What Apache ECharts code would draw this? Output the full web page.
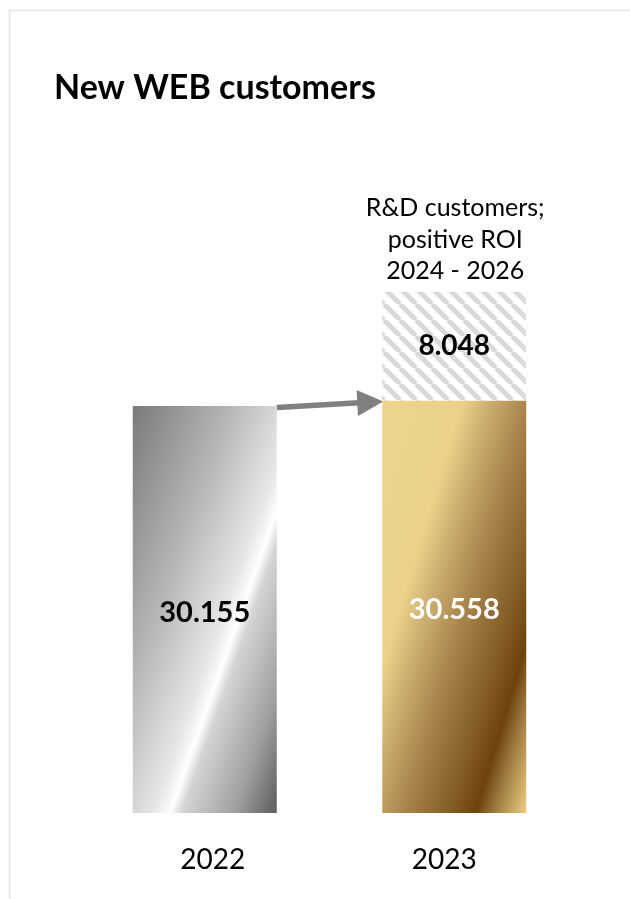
<!DOCTYPE html>
<html>
<head>
<meta charset="utf-8">
<script src="https://cdn.jsdelivr.net/npm/echarts@6/dist/echarts.min.js"></script>
<style>
  html, body { margin: 0; padding: 0; background: #ffffff; }
  #chart { width: 630px; height: 899px; }
</style>
</head>
<body>
<div id="chart"></div>
<script>
// Data
const years = ['2022', '2023'];
const webCustomers = [30.155, 30.558];
const rdCustomers = ['-', 8.048];
const rdNote = 'R&D customers;\npositive ROI\n2024 - 2026';
const chartTitle = 'New WEB customers';

const FONT = 'Lato';

// Brushed silver for the first bar
const silver = {
  type: 'linear', x: 0, y: 0, x2: 1.777, y2: 0.222,
  colorStops: [
    { offset: 0.00, color: '#7a7a7a' },
    { offset: 0.35, color: '#b8b8b8' },
    { offset: 0.57, color: '#e6e6e6' },
    { offset: 0.61, color: '#f6f6f6' },
    { offset: 0.63, color: '#ffffff' },
    { offset: 0.67, color: '#d4d4d4' },
    { offset: 0.85, color: '#a0a0a0' },
    { offset: 1.00, color: '#5c5c5c' }
  ]
};

// Polished gold for the second bar
const gold = {
  type: 'linear', x: 0, y: 0, x2: 1.70, y2: 0.179,
  colorStops: [
    { offset: 0.00, color: '#edd48b' },
    { offset: 0.30, color: '#ecd289' },
    { offset: 0.40, color: '#cdb070' },
    { offset: 0.55, color: '#a8834a' },
    { offset: 0.72, color: '#845c25' },
    { offset: 0.815, color: '#6b430b' },
    { offset: 0.88, color: '#9a763c' },
    { offset: 1.00, color: '#e8cb80' }
  ]
};

// Diagonal hatch tile for the R&D segment
function hatchTile() {
  const c = document.createElement('canvas');
  const s = 16;
  c.width = s; c.height = s;
  const g = c.getContext('2d');
  g.fillStyle = '#ffffff';
  g.fillRect(0, 0, s, s);
  g.strokeStyle = '#d9d9d9';
  g.lineWidth = 5;
  for (let k = -1; k <= 1; k++) {
    g.beginPath();
    g.moveTo(k * s, 0);
    g.lineTo(k * s + s, s);
    g.stroke();
  }
  return c;
}

const BAR_W = 144;
const chart = echarts.init(document.getElementById('chart'), null, { renderer: 'canvas' });

chart.setOption({
  animation: false,
  backgroundColor: '#ffffff',
  title: {
    text: chartTitle,
    left: 49, top: 66,
    textStyle: { fontFamily: FONT, fontWeight: 'bold', fontSize: 34, color: '#000000' }
  },
  grid: { left: 80, width: 499, top: 138, bottom: 86, containLabel: false },
  xAxis: {
    type: 'category',
    data: years,
    axisLine: { show: false },
    axisTick: { show: false },
    axisLabel: {
      margin: 33, fontFamily: FONT, fontSize: 28, color: '#000000',
      formatter: v => (v === years[0] ? '{a|' + v + '}' : '{b|' + v + '}'),
      rich: {
        a: { fontFamily: FONT, fontSize: 28, color: '#000000', padding: [0, 0, 0, 16] },
        b: { fontFamily: FONT, fontSize: 28, color: '#000000', padding: [0, 20, 0, 0] }
      }
    }
  },
  yAxis: {
    type: 'value', min: 0, max: 50, show: false, splitLine: { show: false }
  },
  series: [
    {
      name: 'WEB customers',
      type: 'bar',
      stack: 'total',
      barWidth: BAR_W,
      data: webCustomers.map((v, i) => ({
        value: v,
        itemStyle: { color: i === 0 ? silver : gold },
        label: { color: i === 0 ? '#000000' : '#ffffff' }
      })),
      label: {
        show: true, position: 'inside', offset: [0, 3],
        fontFamily: FONT, fontWeight: 'bold', fontSize: 29,
        formatter: p => Number(p.value).toFixed(3)
      }
    },
    {
      name: 'R&D customers',
      type: 'bar',
      stack: 'total',
      barWidth: BAR_W,
      data: rdCustomers,
      itemStyle: { color: { image: hatchTile(), repeat: 'repeat' } },
      label: {
        show: true, position: 'inside',
        fontFamily: FONT, fontWeight: 'bold', fontSize: 28, color: '#000000',
        formatter: p => Number(p.value).toFixed(3)
      }
    }
  ]
});

// Annotations placed from the axis scales
function placeAnnotations() {
  const a = chart.convertToPixel({ seriesIndex: 0 }, [years[0], webCustomers[0]]);
  const b = chart.convertToPixel({ seriesIndex: 0 }, [years[1], webCustomers[1]]);
  const top = chart.convertToPixel({ seriesIndex: 1 }, [years[1], webCustomers[1] + rdCustomers[1]]);
  const half = BAR_W / 2;
  const x1 = a[0] + half, y1 = a[1] + 1.5;
  const x2 = b[0] - half + 1, y2 = b[1] + 1;
  const dx = x2 - x1, dy = y2 - y1;
  const len = Math.sqrt(dx * dx + dy * dy);
  const ux = dx / len, uy = dy / len;
  const headL = 26, headW = 13;
  const bx = x2 - ux * headL, by = y2 - uy * headL;

  chart.setOption({
    graphic: [
      {
        type: 'rect', silent: true,
        shape: { x: 9.5, y: 10.5, width: 800, height: 1000 },
        style: { fill: 'none', stroke: '#e3e3e3', lineWidth: 1.5 }
      },
      {
        type: 'line', silent: true,
        shape: { x1: x1, y1: y1, x2: bx + ux * 2, y2: by + uy * 2 },
        style: { stroke: '#808080', lineWidth: 5.5 }
      },
      {
        type: 'polygon', silent: true,
        shape: { points: [[x2, y2], [bx - uy * headW, by + ux * headW], [bx + uy * headW, by - ux * headW]] },
        style: { fill: '#808080' }
      },
      {
        type: 'text', silent: true,
        x: top[0] + 1, y: top[1] - 5,
        style: {
          text: rdNote, fontFamily: FONT, fontSize: 25, lineHeight: 31.5,
          fill: '#000000', align: 'center', verticalAlign: 'bottom'
        }
      }
    ]
  });
}
placeAnnotations();
</script>
</body>
</html>
